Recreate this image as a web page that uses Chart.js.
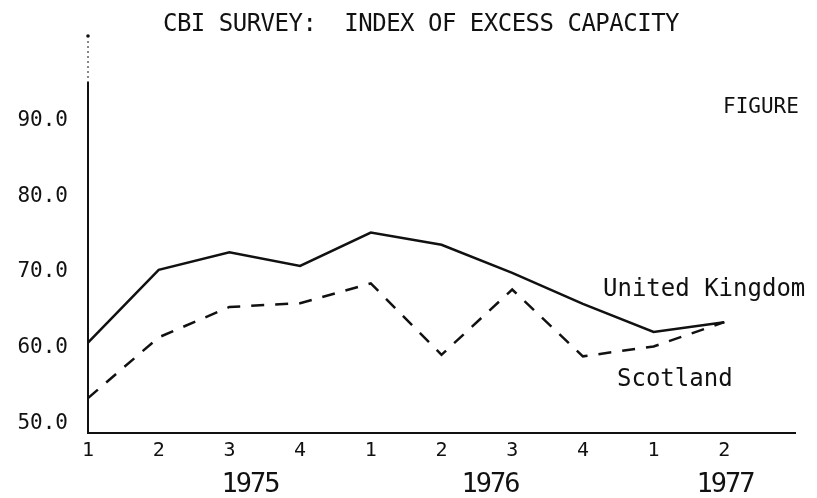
<!DOCTYPE html>
<html>
<head>
<meta charset="utf-8">
<script src="https://cdn.jsdelivr.net/npm/chart.js@4"></script>
<style>
    html, body { margin: 0; padding: 0; background: #fff; }
    #wrap { width: 817px; height: 498px; }
</style>
</head>
<body>
<div id="wrap"><canvas id="capacityChart"></canvas></div>
<script>
const quarters = ["1", "2", "3", "4", "1", "2", "3", "4", "1", "2", ""];
const years = ["1975", "1976", "1977"];
const ukIndex = [60.7, 70.3, 72.6, 70.8, 75.2, 73.6, 69.9, 65.8, 62.1, 63.4];
const scotlandIndex = [53.4, 61.4, 65.4, 65.9, 68.5, 59.1, 67.7, 58.9, 60.2, 63.4];
const yTicks = [50, 60, 70, 80, 90];

const ink = "#111";
const mono = "'DejaVu Sans Mono', monospace";

// title, labels and year captions, typed like the original sheet
const annotations = {
    id: "annotations",
    afterDraw(chart) {
        const { ctx, chartArea } = chart;
        ctx.save();
        ctx.fillStyle = ink;
        ctx.strokeStyle = ink;
        ctx.textBaseline = "middle";

        // faint dotted run of the y axis above the plot, as on the original
        ctx.lineWidth = 1;
        ctx.setLineDash([2, 3]);
        ctx.beginPath();
        ctx.moveTo(chartArea.left, chartArea.top);
        ctx.lineTo(chartArea.left, 40);
        ctx.stroke();
        ctx.setLineDash([]);
        ctx.beginPath();
        ctx.arc(chartArea.left, 36, 1.8, 0, Math.PI * 2);
        ctx.fill();

        ctx.textAlign = "center";
        ctx.font = `24px ${mono}`;
        ctx.letterSpacing = "-0.5px";
        ctx.fillText("CBI SURVEY:  INDEX OF EXCESS CAPACITY", 421, 25);
        ctx.letterSpacing = "0px";

        ctx.textAlign = "left";
        ctx.font = `21px ${mono}`;
        ctx.fillText("FIGURE", 723, 108);

        ctx.font = `24px ${mono}`;
        ctx.fillText("United Kingdom", 603, 290);
        ctx.fillText("Scotland", 617, 380);

        ctx.textAlign = "center";
        ctx.font = `27px ${mono}`;
        ctx.letterSpacing = "-2px";
        const yearX = [250, 490, 725];
        years.forEach((yr, i) => ctx.fillText(yr, yearX[i], 485));
        ctx.restore();
    }
};

const capacityCanvas = document.getElementById("capacityChart");
const capacityChart = new Chart(capacityCanvas, {
    type: "line",
    data: {
        labels: quarters,
        datasets: [
            {
                label: "United Kingdom",
                data: ukIndex,
                borderColor: ink,
                borderWidth: 2.5,
                pointRadius: 0,
                tension: 0,
                fill: false
            },
            {
                label: "Scotland",
                data: scotlandIndex,
                borderColor: ink,
                borderWidth: 2.5,
                borderDash: [13, 11],
                pointRadius: 0,
                tension: 0,
                fill: false
            }
        ]
    },
    options: {
        responsive: true,
        maintainAspectRatio: false,
        animation: false,
        layout: { padding: { top: 83, right: 22, bottom: 0, left: 0 } },
        plugins: {
            legend: { display: false },
            tooltip: { enabled: false },
            title: { display: false }
        },
        scales: {
            x: {
                type: "category",
                offset: false,
                grid: { color: "rgba(0,0,0,0)", drawTicks: false },
                border: { display: true, color: ink, width: 2 },
                ticks: {
                    color: ink,
                    font: { family: mono, size: 20 },
                    padding: 6,
                    autoSkip: false,
                    maxRotation: 0
                },
                afterFit(scale) { scale.height = 65; }
            },
            y: {
                min: 48.8,
                max: 94.9,
                grid: { color: "rgba(0,0,0,0)", drawTicks: false },
                border: { display: true, color: ink, width: 2 },
                ticks: {
                    color: ink,
                    font: { family: mono, size: 21 },
                    padding: 20,
                    callback: (v) => Number(v).toFixed(1)
                },
                afterBuildTicks(scale) {
                    scale.ticks = yTicks.map((v) => ({ value: v }));
                },
                afterFit(scale) { scale.width = 88; }
            }
        }
    },
    plugins: [annotations]
});
</script>
</body>
</html>
